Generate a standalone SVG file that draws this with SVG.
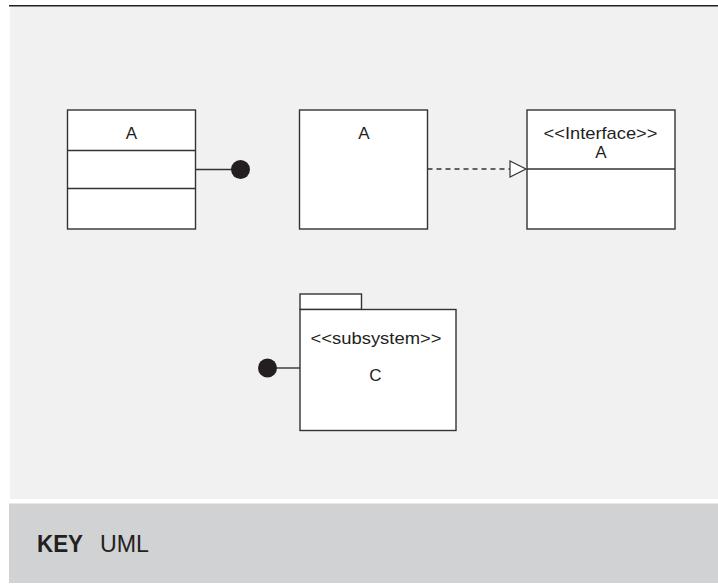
<svg xmlns="http://www.w3.org/2000/svg" width="718" height="584" viewBox="0 0 718 584">
<defs>
<style>
.box{fill:#fff;stroke:#333;stroke-width:1.4}
.ln{stroke:#333;stroke-width:1.4;fill:none}
.t{font-family:"Liberation Sans",Arial,sans-serif;font-size:17px;fill:#231f20;text-anchor:middle}
.dot{fill:#231f20}
</style>
<marker id="tri" markerWidth="20" markerHeight="20" refX="17" refY="9" orient="auto" markerUnits="userSpaceOnUse">
<path d="M1,1 L17,9 L1,17 Z" fill="#fff" stroke="#333" stroke-width="1.2"/>
</marker>
</defs>
<rect x="10" y="6" width="708" height="493" fill="#f1f1f1"/>
<line x1="9" y1="5.8" x2="718" y2="5.8" stroke="#222" stroke-width="1.5"/>
<rect x="9" y="503.5" width="709" height="79.5" fill="#d1d2d4"/>
<g id="key">
<text x="37" y="551.5" font-family="Liberation Sans,Arial,sans-serif" font-size="23" font-weight="bold" fill="#231f20" textLength="46" lengthAdjust="spacingAndGlyphs">KEY</text>
<text x="100" y="551.5" font-family="Liberation Sans,Arial,sans-serif" font-size="23" fill="#231f20" textLength="49" lengthAdjust="spacingAndGlyphs">UML</text>
</g>
<g id="classA">
<rect class="box" x="67.5" y="110" width="128" height="119"/>
<line class="ln" x1="67.5" y1="150.5" x2="195.5" y2="150.5"/>
<line class="ln" x1="67.5" y1="188.5" x2="195.5" y2="188.5"/>
<text class="t" x="131.5" y="138.5">A</text>
</g>
<g id="classA2">
<rect class="box" x="299.5" y="110" width="128" height="119"/>
<text class="t" x="364" y="138.5">A</text>
</g>
<g id="interfaceA">
<rect class="box" x="527" y="110" width="148" height="119"/>
<line class="ln" x1="527" y1="169" x2="675" y2="169"/>
<text class="t" x="600.5" y="139" textLength="114" lengthAdjust="spacingAndGlyphs">&lt;&lt;Interface&gt;&gt;</text>
<text class="t" x="601" y="157.5">A</text>
</g>
<g id="subsystemC">
<rect class="box" x="300" y="294" width="61.5" height="15.5"/>
<rect class="box" x="300" y="309.5" width="156" height="121"/>
<text class="t" x="376" y="343.5" textLength="131" lengthAdjust="spacingAndGlyphs">&lt;&lt;subsystem&gt;&gt;</text>
<text class="t" x="375.5" y="380.5">C</text>
</g>
<g id="connectors">
<line class="ln" x1="195.5" y1="169.5" x2="232" y2="169.5"/>
<circle class="dot" cx="240.5" cy="169.5" r="9.5"/>
<line class="ln" x1="427.5" y1="169" x2="526" y2="169" stroke-dasharray="5,4" marker-end="url(#tri)"/>
<line class="ln" x1="276" y1="368" x2="300" y2="368"/>
<circle class="dot" cx="267.5" cy="368" r="9.5"/>
</g>
</svg>
